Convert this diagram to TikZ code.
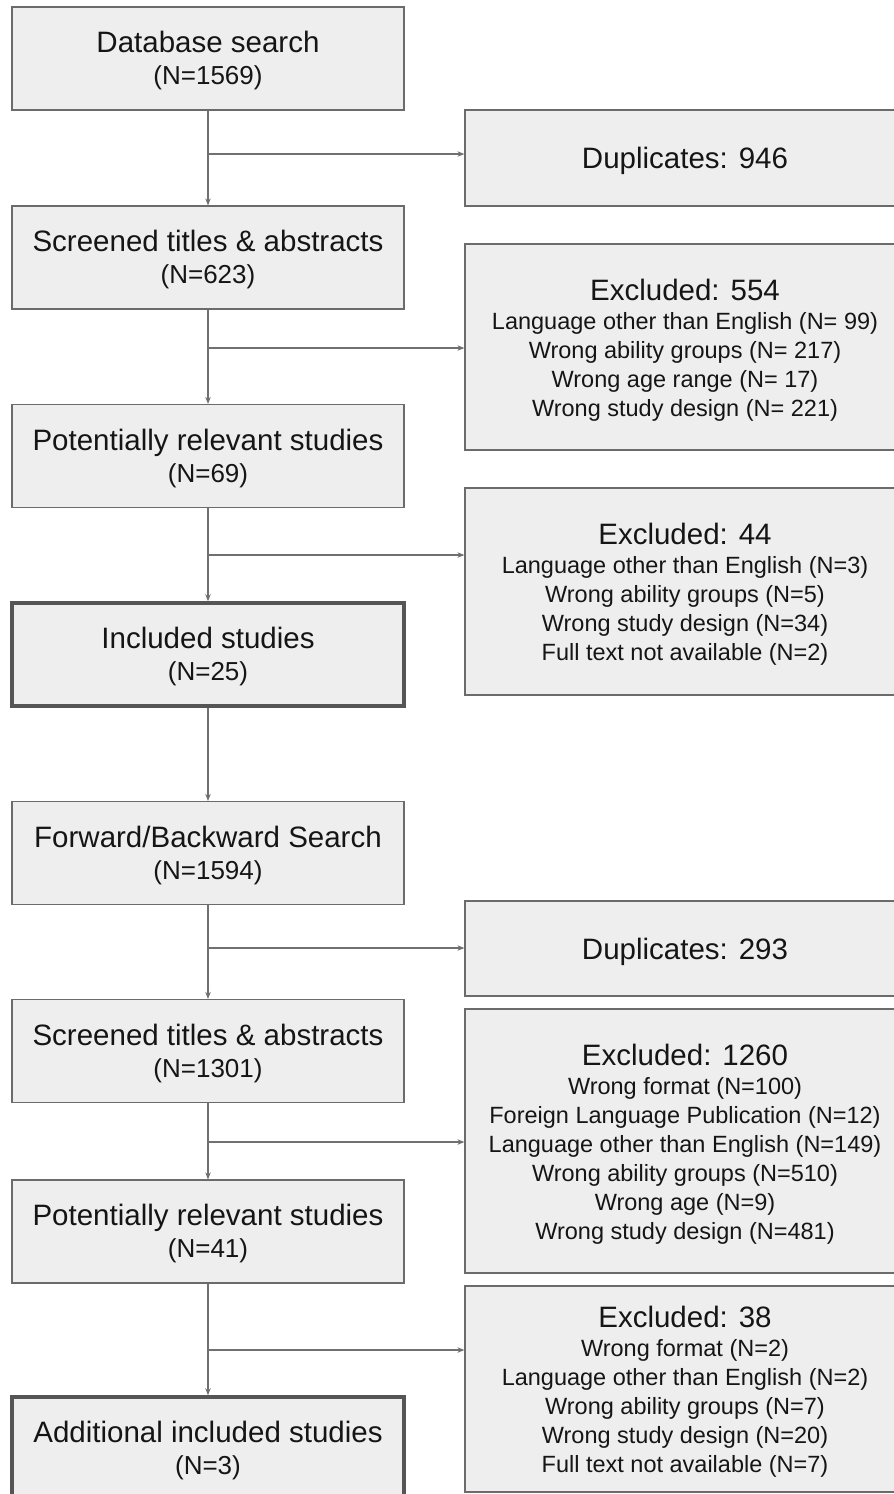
\documentclass[tikz,border=0pt]{standalone}
\usepackage{fontspec}
\setmainfont{Liberation Sans}
\usetikzlibrary{arrows.meta}
\definecolor{boxfill}{HTML}{EEEEEE}
\definecolor{boxline}{HTML}{6B6B6B}
\definecolor{thickline}{HTML}{555555}
\definecolor{arrowcol}{HTML}{707070}
\definecolor{txt}{HTML}{151515}
\newcommand\subtxt[1]{{\fontsize{26}{32}\selectfont #1}}
\newcommand\hdrtxt[1]{{\fontsize{29.5}{30}\selectfont\rule{0pt}{27.5pt}#1}}
\newcommand\ttltxt[1]{\rule{0pt}{26pt}#1}
\tikzset{
  mainbox/.style={draw=boxline, fill=boxfill, line width=1.2pt, minimum width=392pt,
    minimum height=103pt, inner sep=0pt, align=center, text=txt,
    font=\fontsize{29.5}{32}\selectfont},
  inclbox/.style={mainbox, line width=3.5pt, draw=thickline},
  sidebox/.style={draw=boxline, fill=boxfill, line width=1.2pt, minimum width=440pt,
    inner sep=0pt, align=center, text=txt, font=\fontsize{23.5}{29}\selectfont},
  conn/.style={draw=arrowcol, line width=1.3pt, -{Stealth[length=7pt,width=5.5pt]}}
}
\begin{document}
\begin{tikzpicture}[x=1pt,y=-1pt]
\useasboundingbox (0,0) rectangle (894,1494);
% left column
\node[mainbox] (db)   at (208,58.5)  {\ttltxt{Database search}\\\subtxt{(N=1569)}};
\node[mainbox] (scrA) at (208,257.5) {\ttltxt{Screened titles \& abstracts}\\\subtxt{(N=623)}};
\node[mainbox] (potA) at (208,456)   {\ttltxt{Potentially relevant studies}\\\subtxt{(N=69)}};
\node[inclbox] (incA) at (208,654.5) {\ttltxt{Included studies}\\\subtxt{(N=25)}};
\node[mainbox] (fb)   at (208,853)   {\ttltxt{Forward/Backward Search}\\\subtxt{(N=1594)}};
\node[mainbox] (scrB) at (208,1051)  {\ttltxt{Screened titles \& abstracts}\\\subtxt{(N=1301)}};
\node[mainbox] (potB) at (208,1231.5){\ttltxt{Potentially relevant studies}\\\subtxt{(N=41)}};
\node[inclbox] (incB) at (208,1448.5){\ttltxt{Additional included studies}\\\subtxt{(N=3)}};
% right column
\node[sidebox, minimum height=96pt] (dupA) at (685,158)
  {\hdrtxt{Duplicates: 946}};
\node[sidebox, minimum height=206pt] (exA) at (685,347)
  {\hdrtxt{Excluded: 554}\\Language other than English (N= 99)\\Wrong ability groups (N= 217)\\Wrong age range (N= 17)\\Wrong study design (N= 221)};
\node[sidebox, minimum height=207pt] (exB) at (685,591.5)
  {\hdrtxt{Excluded: 44}\\Language other than English (N=3)\\Wrong ability groups (N=5)\\Wrong study design (N=34)\\Full text not available (N=2)};
\node[sidebox, minimum height=95pt] (dupB) at (685,948.5)
  {\hdrtxt{Duplicates: 293}};
\node[sidebox, minimum height=264pt] (exC) at (685,1141)
  {\hdrtxt{Excluded: 1260}\\Wrong format (N=100)\\Foreign Language Publication (N=12)\\Language other than English (N=149)\\Wrong ability groups (N=510)\\Wrong age (N=9)\\Wrong study design (N=481)};
\node[sidebox, minimum height=206pt] (exD) at (685,1389)
  {\hdrtxt{Excluded: 38}\\Wrong format (N=2)\\Language other than English (N=2)\\Wrong ability groups (N=7)\\Wrong study design (N=20)\\Full text not available (N=7)};
% branch points
\coordinate (b1) at (208,154);
\coordinate (b2) at (208,348);
\coordinate (b3) at (208,555);
\coordinate (b4) at (208,948);
\coordinate (b5) at (208,1142);
\coordinate (b6) at (208,1350);
% vertical connectors
\draw[conn] (db.south) -- (scrA.north);
\draw[conn] (scrA.south) -- (potA.north);
\draw[conn] (potA.south) -- (incA.north);
\draw[conn] (incA.south) -- (fb.north);
\draw[conn] (fb.south) -- (scrB.north);
\draw[conn] (scrB.south) -- (potB.north);
\draw[conn] (potB.south) -- (incB.north);
% horizontal connectors
\draw[conn] (b1) -- (b1 -| dupA.west);
\draw[conn] (b2) -- (b2 -| exA.west);
\draw[conn] (b3) -- (b3 -| exB.west);
\draw[conn] (b4) -- (b4 -| dupB.west);
\draw[conn] (b5) -- (b5 -| exC.west);
\draw[conn] (b6) -- (b6 -| exD.west);
\end{tikzpicture}
\end{document}
